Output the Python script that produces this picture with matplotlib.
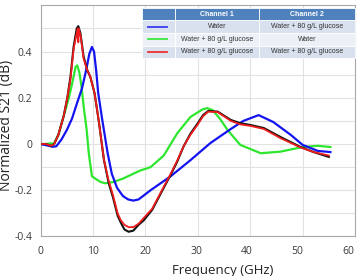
'''Normalized S21 vs frequency, two-channel glucose sensor'''

import matplotlib
matplotlib.use('Agg')
import matplotlib.pyplot as plt
import matplotlib.transforms as mtrans

# Data
black_x = [0.0, 1.0, 2.0, 2.6, 3.4, 4.4, 5.1, 5.7, 6.3, 6.9, 7.2, 7.6, 8.2, 8.9, 9.5,
           10.3, 11.1, 12.1, 13.0, 13.8, 14.7, 15.3, 16.0, 16.8, 17.7, 18.7, 19.7,
           21.3, 22.8, 24.8, 26.0, 27.3, 28.6, 30.0, 31.0, 32.0, 33.8, 36.3, 38.1,
           40.1, 42.6, 45.8, 49.6, 52.1, 55.0]
black_y = [0.0, 0.0, -0.008, 0.0, 0.04, 0.12, 0.20, 0.29, 0.42, 0.50, 0.51, 0.48, 0.38,
           0.32, 0.29, 0.22, 0.10, -0.07, -0.17, -0.23, -0.31, -0.34, -0.37, -0.38,
           -0.375, -0.35, -0.33, -0.285, -0.22, -0.134, -0.08, -0.01, 0.045, 0.09,
           0.125, 0.143, 0.14, 0.104, 0.09, 0.082, 0.069, 0.03, -0.013, -0.035, -0.056]

red_x = [0.0, 1.0, 2.0, 2.6, 3.4, 4.4, 5.1, 5.7, 6.3, 6.9, 7.1, 7.2, 7.3, 7.7, 8.2, 8.9,
         9.5, 10.3, 11.1, 12.1, 13.0, 13.8, 14.7, 15.3, 16.0, 16.8, 17.7, 18.7, 19.7,
         21.3, 22.8, 24.8, 26.0, 27.3, 28.6, 30.0, 31.0, 32.0, 33.8, 36.3, 38.1,
         40.1, 42.6, 45.8, 49.6, 52.1, 55.0]
red_y = [0.0, 0.0, -0.008, 0.0, 0.04, 0.12, 0.20, 0.28, 0.41, 0.48, 0.50, 0.44, 0.50,
         0.46, 0.37, 0.32, 0.29, 0.22, 0.10, -0.07, -0.16, -0.22, -0.30, -0.33, -0.35,
         -0.36, -0.36, -0.345, -0.32, -0.28, -0.215, -0.13, -0.075, -0.01, 0.04, 0.085,
         0.12, 0.14, 0.138, 0.10, 0.085, 0.078, 0.065, 0.025, -0.015, -0.035, -0.05]

green_x = [0.0, 1.0, 2.0, 2.5, 3.4, 4.4, 5.4, 6.1, 6.7, 7.0, 7.4, 7.8, 8.3, 8.8, 9.2,
           9.8, 10.8, 11.4, 12.3, 13.8, 15.7, 17.2, 19.0, 21.0, 23.5, 26.1, 28.6,
           30.9, 31.8, 32.8, 34.2, 35.7, 38.1, 42.0, 45.8, 50.0, 52.9, 55.3]
green_y = [0.0, 0.0, 0.003, 0.0, 0.04, 0.12, 0.20, 0.27, 0.335, 0.34, 0.31, 0.25, 0.147,
           0.06, -0.04, -0.14, -0.155, -0.164, -0.17, -0.165, -0.15, -0.134, -0.115,
           -0.10, -0.05, 0.047, 0.117, 0.15, 0.155, 0.147, 0.11, 0.06, -0.004, -0.04,
           -0.033, -0.013, -0.008, -0.013]

blue_x = [0.0, 1.0, 2.3, 3.0, 4.0, 5.0, 6.0, 7.0, 7.9, 8.7, 9.3, 9.8, 10.2, 10.6, 11.0,
          11.8, 12.8, 13.6, 14.6, 15.7, 16.7, 17.7, 18.7, 21.0, 24.8, 28.6, 32.4,
          36.3, 38.7, 41.6, 44.4, 47.7, 50.0, 52.9, 55.3]
blue_y = [0.0, -0.005, -0.012, -0.01, 0.02, 0.06, 0.11, 0.18, 0.24, 0.32, 0.39, 0.42,
          0.40, 0.32, 0.22, 0.10, -0.04, -0.13, -0.19, -0.225, -0.24, -0.245, -0.24,
          -0.20, -0.14, -0.07, 0.004, 0.065, 0.10, 0.125, 0.095, 0.04, -0.004, -0.03,
          -0.035]

x_ticks = [0, 10, 20, 30, 40, 50, 60]
y_ticks = [-0.4, -0.2, 0, 0.2, 0.4]
y_tick_labels = ['-0.4', '-0.2', '0', '0.2', '0.4']

table_header = ['', 'Channel 1', 'Channel 2']
table_rows = [['', 'Water', 'Water + 80 g/L glucose'],
              ['', 'Water + 80 g/L glucose', 'Water'],
              ['', 'Water + 80 g/L glucose', 'Water + 80 g/L glucose']]
row_colors = ['#3a3af0', '#3ee63e', '#ee3030']

BLUE = '#1414f0'
GREEN = '#2ee62e'
RED = '#ee1c1c'
BLACK = '#111111'

plt.rcParams['font.family'] = ['Open Sans', 'DejaVu Sans']

fig = plt.figure(figsize=(3.59, 2.76), dpi=100)
ax = fig.add_axes([0.113, 0.1435, 0.876, 0.837])

ax.plot(green_x, green_y, color=GREEN, lw=1.6, zorder=3)
ax.plot(blue_x, blue_y, color=BLUE, lw=1.6, zorder=3)
ax.plot(black_x, black_y, color=BLACK, lw=1.5, zorder=3)
ax.plot(red_x, red_y, color=RED, lw=1.3, zorder=4)

ax.set_xlim(0, 60)
ax.set_ylim(-0.4, 0.6)
ax.set_xticks(x_ticks)
ax.set_yticks(y_ticks)
ax.set_yticklabels(y_tick_labels)
ax.set_yticks([-0.3, -0.1, 0.1, 0.3, 0.5], minor=True)
ax.grid(True, which='both', color='#e2e2e2', lw=0.8)
ax.set_axisbelow(True)
ax.tick_params(which='both', length=0, labelsize=7.5, labelcolor='#3a3a3a')
ax.tick_params(axis='x', pad=7)
ax.tick_params(axis='y', pad=6)
for s in ax.spines.values():
    s.set_color('#a8a8a8')
    s.set_linewidth(0.8)

# the x labels in the reference drift left towards the right end
shifts = [0, 0, 0, -1, -4, -5, -7]
for lab, dx in zip(ax.get_xticklabels(), shifts):
    lab.set_transform(lab.get_transform() +
                      mtrans.ScaledTranslation(dx / 100, 0, fig.dpi_scale_trans))

ax.set_xlabel('Frequency (GHz)', fontsize=9.5, color='#222222')
ax.xaxis.set_label_coords(0.58, -0.12)
ax.set_ylabel('Normalized S21 (dB)', fontsize=10, color='#222222')
ax.yaxis.set_label_coords(-0.085, 0.48)

# Legend table
tab = ax.table(cellText=table_rows, colLabels=table_header,
               colWidths=[0.155, 0.394, 0.451],
               bbox=[0.3225, 0.772, 0.6775, 0.217], cellLoc='center', zorder=6)
tab.auto_set_font_size(False)
for (r, c), cell in tab.get_celld().items():
    cell.set_edgecolor('white')
    cell.set_linewidth(0.6)
    cell.get_text().set_fontsize(5)
    cell.get_text().set_family(['Liberation Sans', 'DejaVu Sans'])
    if r == 0:
        cell.set_facecolor('#4f81bd')
        cell.get_text().set_color('white')
        cell.get_text().set_fontweight('bold')
    else:
        cell.set_facecolor('#d9e1ee' if r % 2 == 1 else '#edf1f7')
        cell.get_text().set_color('#333333')

row_h = 0.217 / 4
for i, col in enumerate(row_colors):
    yc = 0.772 + 0.217 - row_h * (i + 1.5)
    ax.plot([0.342, 0.402], [yc, yc], color=col, lw=1.3,
            transform=ax.transAxes, zorder=7, clip_on=False)

fig.savefig('out.png', dpi=100)
